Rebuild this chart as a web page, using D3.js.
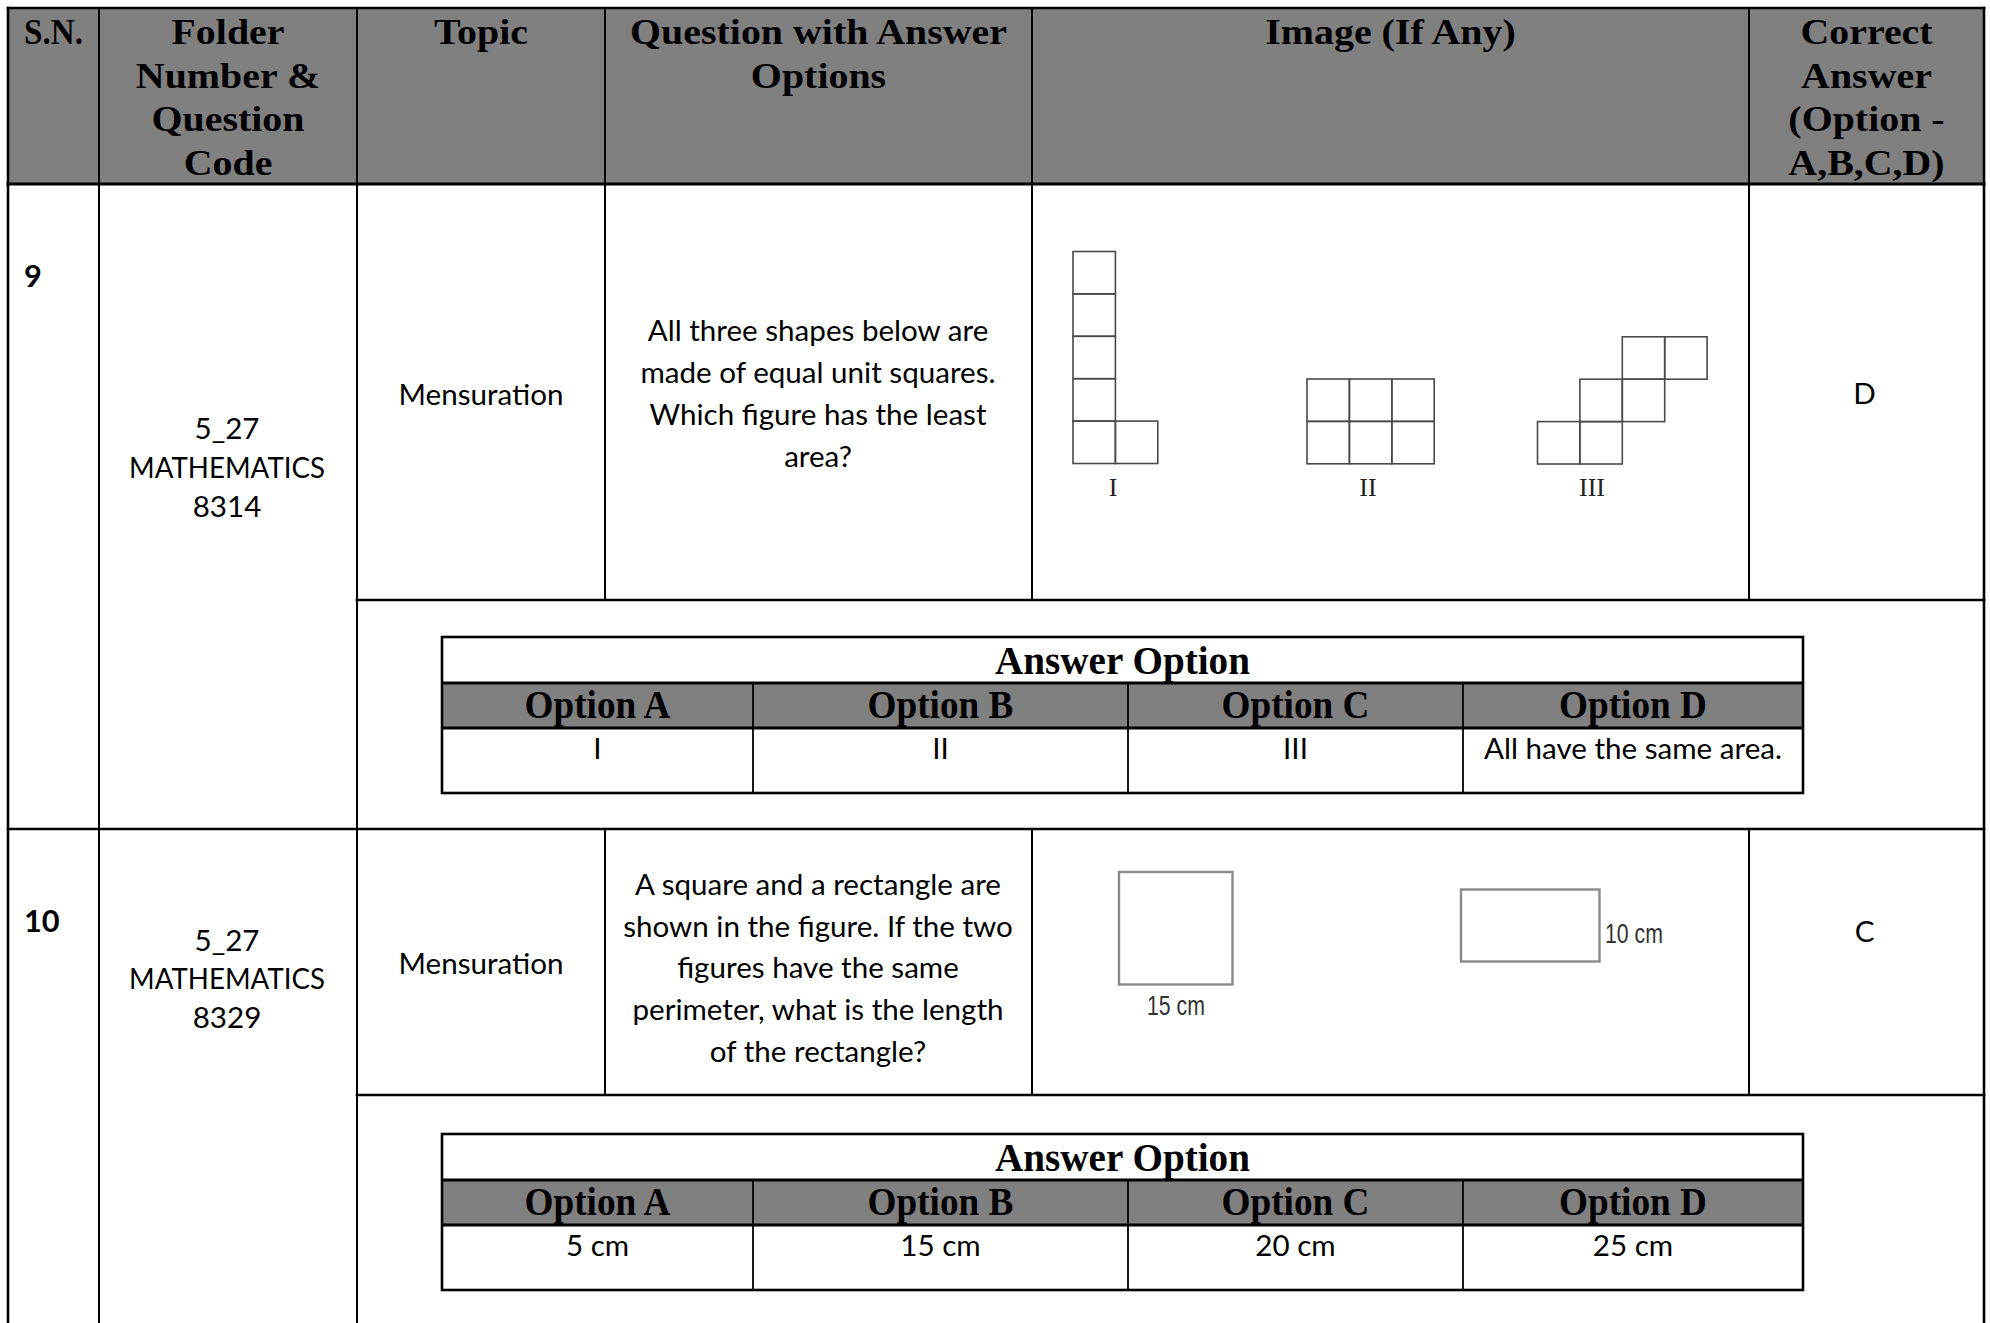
<!DOCTYPE html>
<html><head><meta charset="utf-8">
<script src="https://cdn.jsdelivr.net/npm/d3@7"></script>
<style>html,body{margin:0;padding:0;background:#fff;} svg{display:block;}</style>
</head><body><svg id="c" width="1990" height="1323"></svg>
<script>
// ---------------- DATA ----------------
const headerLabels = [
  ["S.N."],
  ["Folder", "Number &", "Question", "Code"],
  ["Topic"],
  ["Question with Answer", "Options"],
  ["Image (If Any)"],
  ["Correct", "Answer", "(Option -", "A,B,C,D)"]
];
const serialNumbers = ["9", "10"];
const folderCodes = [
  ["5_27", "MATHEMATICS", "8314"],
  ["5_27", "MATHEMATICS", "8329"]
];
const topics = ["Mensuration", "Mensuration"];
const questionLines = [
  ["All three shapes below are", "made of equal unit squares.", "Which figure has the least", "area?"],
  ["A square and a rectangle are", "shown in the figure. If the two", "figures have the same", "perimeter, what is the length", "of the rectangle?"]
];
const correctAnswers = ["D", "C"];
const answerTitle = "Answer Option";
const optionLabels = ["Option A", "Option B", "Option C", "Option D"];
const optionValues = [
  ["I", "II", "III", "All have the same area."],
  ["5 cm", "15 cm", "20 cm", "25 cm"]
];
const figureNames = ["I", "II", "III"];
// unit squares of each figure as [column, row] (row 0 = top)
const figureCells = [
  [[0,0],[0,1],[0,2],[0,3],[0,4],[1,4]],
  [[0,0],[1,0],[2,0],[0,1],[1,1],[2,1]],
  [[2,0],[3,0],[1,1],[2,1],[0,2],[1,2]]
];
const shapeLabels = ["15 cm", "10 cm"];

// ---------------- LAYOUT ----------------
const svg = d3.select("#c");
const colX = [8, 99, 357, 605, 1032, 1749, 1984];
const colCenter = i => (colX[i] + colX[i+1]) / 2;
const headerBase = [44, 87.5, 131, 174.5];
const rows = [
  {top:184, qBottom:600, bottom:829, sn:287, folder:[439,478,517], topic:405,
   question:[341,383,425,467], answer:404, tableTop:637},
  {top:829, qBottom:1095, bottom:1330, sn:932, folder:[951,989,1028], topic:974,
   question:[895,937,978,1020,1062], answer:942, tableTop:1134}
];
const innerX = [442, 753, 1128, 1463, 1803];
const innerRowH = [46, 45, 65];

// font calibration
function measure(str, size, family, weight) {
  const t = svg.append("text").attr("font-family", family).attr("font-size", size)
    .attr("font-weight", weight).text(str);
  const w = t.node().getComputedTextLength();
  t.remove();
  return w;
}
const BODY = "Lato, 'Open Sans', sans-serif";
const SERIF = "'Liberation Serif', 'DejaVu Serif', serif";
const bodySize = 31 * 165 / measure("Mensuration", 31, BODY, 400);
const capsSX = 196 / measure("MATHEMATICS", bodySize, BODY, 400);
const headSize = 36, headSX = 377 / measure("Question with Answer", 36, SERIF, 700);
const snSX = 59 / measure("S.N.", 36, SERIF, 700);
const titleSize = 40, titleSX = 255 / measure("Answer Option", 40, SERIF, 700);
const optSize = 40, optSX = 148 / measure("Option D", 40, SERIF, 700);

function txt(g, str, x, y, o) {
  o = o || {};
  return g.append("text")
    .attr("transform", `translate(${x},${y}) scale(${o.sx || 1},1)`)
    .attr("text-anchor", o.anchor || "middle")
    .attr("font-family", o.family || BODY)
    .attr("font-size", o.size || bodySize)
    .attr("font-weight", o.weight || 400)
    .attr("fill", o.fill || "#000")
    .text(str);
}

// ---------------- HEADER ----------------
svg.append("rect").attr("x", colX[0]).attr("y", 8).attr("width", colX[6] - colX[0]).attr("height", 184 - 8)
  .attr("fill", "#808080");
const gHead = svg.append("g");
headerLabels.forEach((lines, i) => {
  lines.forEach((s, j) => {
    if (i === 0) txt(gHead, s, 24, headerBase[j], {family:SERIF, size:headSize, weight:700, sx:snSX, anchor:"start"});
    else txt(gHead, s, colCenter(i), headerBase[j], {family:SERIF, size:headSize, weight:700, sx:headSX});
  });
});

// ---------------- ROWS ----------------
const gBody = svg.append("g");
rows.forEach((r, i) => {
  txt(gBody, serialNumbers[i], 24, r.sn, {weight:700, anchor:"start", size:bodySize * 1.04});
  folderCodes[i].forEach((s, j) => txt(gBody, s, colCenter(1) - 1, r.folder[j], {sx: j === 1 ? capsSX : 1}));
  txt(gBody, topics[i], colCenter(2), r.topic);
  questionLines[i].forEach((s, j) => txt(gBody, s, colCenter(3) - 0.5, r.question[j]));
  txt(gBody, correctAnswers[i], colCenter(5) - 2, r.answer);

  // answer option sub-table
  const t0 = r.tableTop, t1 = t0 + innerRowH[0], t2 = t1 + innerRowH[1], t3 = t2 + innerRowH[2];
  const g = svg.append("g");
  g.append("rect").attr("x", innerX[0]).attr("y", t1).attr("width", innerX[4] - innerX[0])
    .attr("height", innerRowH[1]).attr("fill", "#808080");
  [1, 2, 3].forEach(k => g.append("line").attr("x1", innerX[k]).attr("x2", innerX[k])
    .attr("y1", t1).attr("y2", t3).attr("stroke", "#000").attr("stroke-width", 1.8));
  [t1, t2].forEach(y => g.append("line").attr("x1", innerX[0]).attr("x2", innerX[4])
    .attr("y1", y).attr("y2", y).attr("stroke", "#000").attr("stroke-width", 3));
  g.append("rect").attr("x", innerX[0]).attr("y", t0).attr("width", innerX[4] - innerX[0])
    .attr("height", t3 - t0).attr("fill", "none").attr("stroke", "#000").attr("stroke-width", 2.6);
  txt(g, answerTitle, (innerX[0] + innerX[4]) / 2, t0 + 37, {family:SERIF, size:titleSize, weight:700, sx:titleSX});
  optionLabels.forEach((s, k) => txt(g, s, (innerX[k] + innerX[k+1]) / 2, t1 + 35,
    {family:SERIF, size:optSize, weight:700, sx:optSX}));
  optionValues[i].forEach((s, k) => txt(g, s, (innerX[k] + innerX[k+1]) / 2, t2 + 31));
});

// ---------------- FIGURES (row 9) ----------------
const unit = 42.4;
const figOrigin = [[1073, 251.5], [1307, 379], [1537.5, 336.8]];
const figLabelX = [1113, 1368, 1592];
const gFig = svg.append("g");
figureCells.forEach((cells, f) => {
  const xs = d3.scaleLinear().domain([0, 1]).range([figOrigin[f][0], figOrigin[f][0] + unit]);
  const ys = d3.scaleLinear().domain([0, 1]).range([figOrigin[f][1], figOrigin[f][1] + unit]);
  gFig.selectAll(null).data(cells).join("rect")
    .attr("x", d => xs(d[0])).attr("y", d => ys(d[1]))
    .attr("width", unit).attr("height", unit)
    .attr("fill", "none").attr("stroke", "#4a4a4a").attr("stroke-width", 1.6);
  txt(gFig, figureNames[f], figLabelX[f], 496, {family:SERIF, size:26, fill:"#222"});
});

// ---------------- FIGURES (row 10) ----------------
const gShp = svg.append("g");
gShp.append("rect").attr("x", 1119).attr("y", 872).attr("width", 113.5).attr("height", 112.5)
  .attr("fill", "none").attr("stroke", "#8a8a8a").attr("stroke-width", 2.4);
gShp.append("rect").attr("x", 1461).attr("y", 889.5).attr("width", 138.5).attr("height", 72)
  .attr("fill", "none").attr("stroke", "#8a8a8a").attr("stroke-width", 2.4);
const smallSX = 58 / measure("15 cm", 27, "'Liberation Sans', Arial, sans-serif", 400);
txt(gShp, shapeLabels[0], 1176, 1015, {family:"'Liberation Sans', Arial, sans-serif", size:27, sx:smallSX, fill:"#333"});
txt(gShp, shapeLabels[1], 1605, 943, {family:"'Liberation Sans', Arial, sans-serif", size:27, sx:smallSX, fill:"#333", anchor:"start"});

// ---------------- GRID LINES ----------------
const gridLines = [
  // [x1, y1, x2, y2, width]
  [colX[0], 8, colX[6], 8, 2.6],
  [colX[0], 184, colX[6], 184, 3],
  [colX[0], 8, colX[0], 1330, 2.6],
  [colX[6], 8, colX[6], 1330, 2.6],
  [colX[1], 8, colX[1], 1330, 2],
  [colX[2], 8, colX[2], 1330, 2],
  [colX[0], rows[0].bottom, colX[6], rows[0].bottom, 2.6]
];
rows.forEach((r, ri) => {
  gridLines.push([colX[2], r.qBottom, colX[6], r.qBottom, 2.6]);
  [3, 4, 5].forEach(k => gridLines.push([colX[k], ri === 0 ? 8 : r.top, colX[k], r.qBottom, 2]));
});
svg.append("g").selectAll("line").data(gridLines).join("line")
  .attr("x1", d => d[0]).attr("y1", d => d[1]).attr("x2", d => d[2]).attr("y2", d => d[3])
  .attr("stroke", "#000").attr("stroke-width", d => d[4]).attr("stroke-linecap", "square");
</script></body></html>
